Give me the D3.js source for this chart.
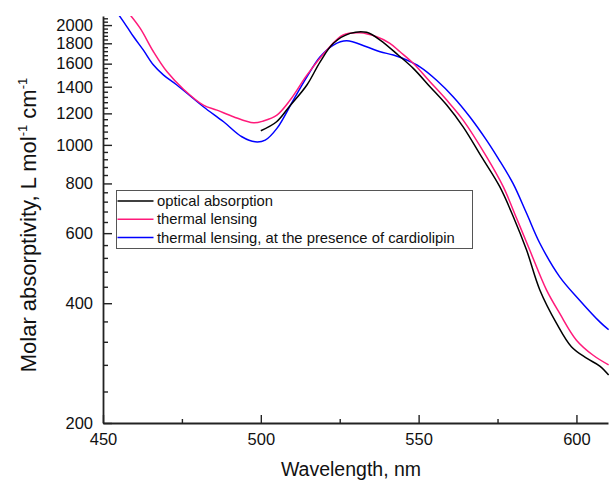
<!DOCTYPE html>
<html><head><meta charset="utf-8">
<script src="https://cdn.jsdelivr.net/npm/d3@7"></script>
<style>body{margin:0;background:#fff}svg{display:block;font-family:"Liberation Sans",Arial,sans-serif}</style>
</head><body><svg id="c" width="609" height="481"></svg>
<script>
// ---- data ----
const opticalWl = [500,505,509,514.6,518.8,523,528.3,533.5,537.8,543.5,548.3,553.6,558.9,564.1,569.9,575.7,580,584.2,588.4,593.7,598.4,603.2,607.4,610.2];
const opticalVal = [1085,1143,1247,1414,1617,1800,1906,1918,1834,1682,1557,1400,1259,1110,934,785,660,544,432,356,311,291,278,264];

const thermalWl = [458,461.8,466,470.3,475.5,481.8,486.1,491.3,497.7,500.8,505.1,509.3,514.6,520.9,526.1,531.4,536.7,540.9,544.1,548.3,553.6,558.9,564.1,571.5,576.8,581,585.2,590.5,594.7,600,605.3,610.2];
const thermalVal = [2150,1962,1714,1526,1380,1259,1223,1177,1136,1148,1188,1296,1497,1730,1888,1913,1869,1800,1714,1603,1441,1296,1154,934,785,655,544,432,377,323,296,280];

const cardioWl = [454.5,457.6,459.7,462.8,466,469.2,473.4,481.8,488.2,494,498.2,501.4,505.1,510.3,514.6,518.8,523,527.2,533.5,537.8,542,546.2,550.4,555.7,561,566.2,571.5,575.2,579.9,584.2,588.4,594.7,601,607.4,610.2];
const cardioVal = [2150,1980,1869,1730,1587,1497,1414,1247,1143,1048,1018,1028,1100,1296,1483,1665,1782,1826,1764,1714,1682,1634,1571,1454,1320,1177,1028,925,800,673,566,466,407,359,343];

const seriesNames = ["optical absorption","thermal lensing","thermal lensing, at the presence of cardiolipin"];
const seriesColors = ["#000000","#ff1a7a","#0000ff"];

const xMajorTicks = [450,500,550,600];
const xMinorTicks = [475,525,575];
const yMajorTicks = [200,400,600,800,1000,1200,1400,1600,1800,2000];
const yMinorTicks = d3.range(240,2100,40).filter(v => v % 200 !== 0);

// ---- layout ----
const L = 103, R = 608, T = 16, B = 423;
const svg = d3.select("#c");
const x = d3.scaleLinear().domain([450,610]).range([L,R]);
const y = d3.scaleLog().domain([200,2108]).range([B,T]);

svg.append("defs").append("clipPath").attr("id","clip")
  .append("rect").attr("x",L).attr("y",T).attr("width",R-L+2).attr("height",B-T);

const series = [
  {wl: opticalWl, v: opticalVal},
  {wl: thermalWl, v: thermalVal},
  {wl: cardioWl, v: cardioVal}
];
const line = d3.line().x(d=>x(d[0])).y(d=>y(d[1])).curve(d3.curveCatmullRom.alpha(0.5));
const g = svg.append("g").attr("clip-path","url(#clip)");
[2,1,0].forEach(i => {
  const s = series[i];
  g.append("path").datum(s.wl.map((w,k)=>[w,s.v[k]]))
    .attr("fill","none").attr("stroke",seriesColors[i]).attr("stroke-width",1.5)
    .attr("d",line);
});

// ---- axes ----
const axColor = "#222";
function styleAxis(sel){
  sel.selectAll("path.domain").attr("stroke",axColor).attr("stroke-width",1.8);
  sel.selectAll(".tick line").attr("stroke",axColor).attr("stroke-width",1.4);
  sel.selectAll(".tick text").attr("fill","#111").attr("font-family","Liberation Sans, Arial, sans-serif");
}
svg.append("g").attr("transform",`translate(0,${B})`)
  .call(d3.axisBottom(x).tickValues(xMinorTicks).tickFormat("").tickSizeInner(-4).tickSizeOuter(0))
  .call(s=>{s.select(".domain").remove(); styleAxis(s);});
svg.append("g").attr("transform",`translate(${L},0)`)
  .call(d3.axisLeft(y).tickValues(yMinorTicks).tickFormat("").tickSizeInner(-5).tickSizeOuter(0))
  .call(s=>{s.select(".domain").remove(); styleAxis(s);});
svg.append("g").attr("transform",`translate(0,${B})`)
  .call(d3.axisBottom(x).tickValues(xMajorTicks).tickFormat(d3.format("d")).tickSizeInner(-8).tickSizeOuter(0).tickPadding(10))
  .call(s=>{styleAxis(s); s.selectAll(".tick text").attr("font-size",16.5);});
svg.append("g").attr("transform",`translate(${L},0)`)
  .call(d3.axisLeft(y).tickValues(yMajorTicks).tickFormat(d3.format("d")).tickSizeInner(-9).tickSizeOuter(0).tickPadding(10))
  .call(s=>{styleAxis(s); s.selectAll(".tick text").attr("font-size",16.5);});

// axis titles
svg.append("text").attr("x",351).attr("y",476).attr("text-anchor","middle")
  .attr("font-size",19.5).attr("fill","#111").text("Wavelength, nm");

const yt = svg.append("text").attr("transform","translate(36,225) rotate(-90)")
  .attr("text-anchor","middle").attr("font-size",22).attr("fill","#111");
yt.append("tspan").text("Molar absorptivity, L mol");
yt.append("tspan").attr("font-size",13).attr("dy",-9).text("-1");
yt.append("tspan").attr("dy",9).text(" cm");
yt.append("tspan").attr("font-size",13).attr("dy",-9).text("-1");

// ---- legend ----
const lg = svg.append("g");
lg.append("rect").attr("x",116.5).attr("y",190.5).attr("width",356).attr("height",58)
  .attr("fill","#fff").attr("stroke","#555").attr("stroke-width",1);
seriesNames.forEach((nm,i)=>{
  const yy = 201 + i*18.3;
  lg.append("line").attr("x1",117.5).attr("x2",153.5).attr("y1",yy).attr("y2",yy)
    .attr("stroke",seriesColors[i]).attr("stroke-width",1.5);
  lg.append("text").attr("x",157).attr("y",yy).attr("dy","0.35em")
    .attr("font-size",14.8).attr("fill","#111").text(nm);
});
</script></body></html>
